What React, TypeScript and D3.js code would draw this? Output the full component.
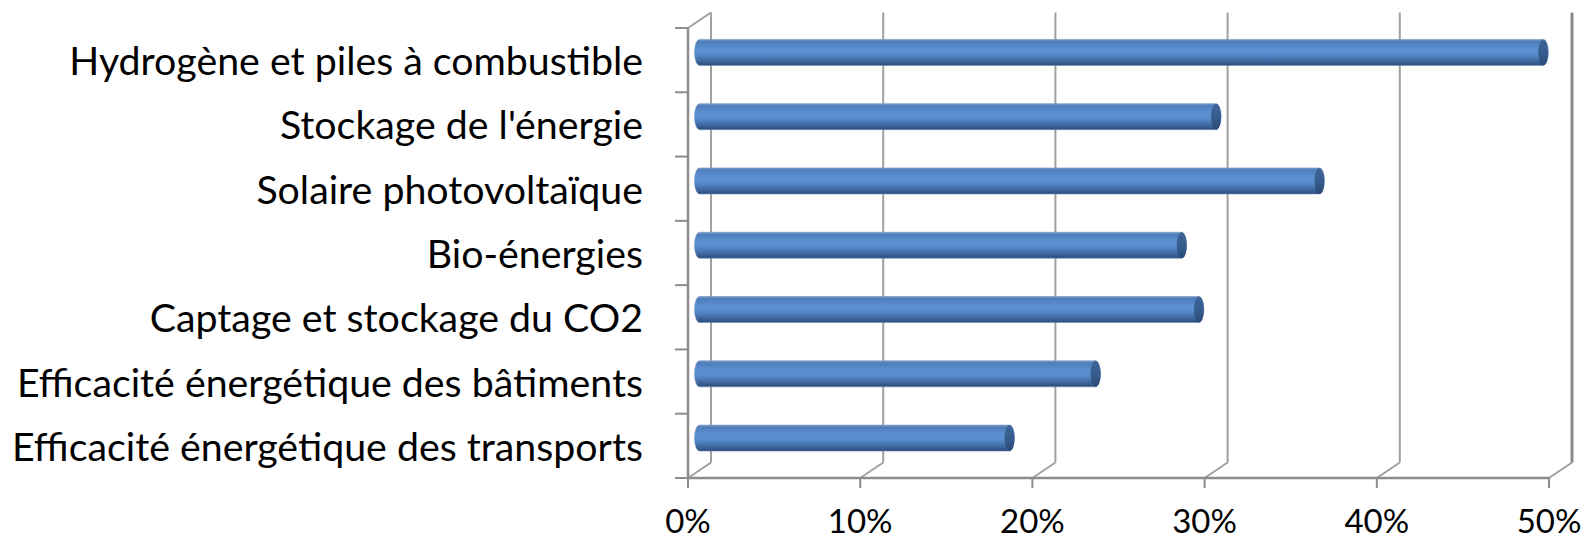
import React from 'react';
import * as d3 from 'd3';

const categories = [
  'Hydrogène et piles à combustible',
  "Stockage de l'énergie",
  'Solaire photovoltaïque',
  'Bio-énergies',
  'Captage et stockage du CO2',
  'Efficacité énergétique des bâtiments',
  'Efficacité énergétique des transports',
];
const values = [49, 30, 36, 28, 29, 23, 18];
const tickValues = [0, 10, 20, 30, 40, 50];

export default function App() {
  const W = 1585;
  const H = 540;
  const x = d3.scaleLinear().domain([0, 50]).range([688, 1549]);
  const y = d3.scaleBand<string>().domain(categories).range([28, 478]);
  const dx = 23;
  const dy = -15.5;
  const top = 28;
  const bottom = 478;
  const barR = 13;
  const capRx = 5;
  const grid = '#A0A0A0';
  const axis = '#8C8C8C';
  const font = 'Lato, "Open Sans", sans-serif';

  const bands = d3.range(categories.length + 1).map((i) => top + i * y.step());

  return (
    <svg width={W} height={H} style={{ position: 'absolute', left: 0, top: 0, background: '#fff' }}>
      <defs>
        <linearGradient id="body" x1="0" y1="0" x2="0" y2="1">
          <stop offset="0" stopColor="#7C9FCB" />
          <stop offset="0.08" stopColor="#4E7DBA" />
          <stop offset="0.35" stopColor="#5C90D2" />
          <stop offset="0.55" stopColor="#5A8DCE" />
          <stop offset="0.8" stopColor="#416DA6" />
          <stop offset="1" stopColor="#2B4C7A" />
        </linearGradient>
        <linearGradient id="cap" x1="0" y1="0" x2="0" y2="1">
          <stop offset="0" stopColor="#3F6699" />
          <stop offset="0.5" stopColor="#375D8F" />
          <stop offset="1" stopColor="#294A76" />
        </linearGradient>
      </defs>

      {/* back wall gridlines and floor lines */}
      {tickValues.map((t, i) => (
        <g key={`g${t}`}>
          <line
            x1={x(t) + dx}
            x2={x(t) + dx}
            y1={top + dy}
            y2={bottom + dy}
            stroke={i === tickValues.length - 1 ? '#8A8A8A' : grid}
            strokeWidth={i === tickValues.length - 1 ? 3 : 2}
          />
          <line x1={x(t)} y1={bottom} x2={x(t) + dx} y2={bottom + dy} stroke={grid} strokeWidth={2} />
          <line x1={x(t)} x2={x(t)} y1={bottom} y2={bottom + 10} stroke={axis} strokeWidth={2} />
        </g>
      ))}

      {/* left wall */}
      <line x1={x(0)} x2={x(0)} y1={top} y2={bottom} stroke={axis} strokeWidth={2.5} />
      <line x1={x(0)} y1={top} x2={x(0) + dx} y2={top + dy} stroke={grid} strokeWidth={2} />
      {bands.map((b, i) => (
        <line key={`t${i}`} x1={x(0) - 13} x2={x(0)} y1={b} y2={b} stroke={axis} strokeWidth={2} />
      ))}
      {/* front axis */}
      <line x1={x(0)} x2={x(50)} y1={bottom} y2={bottom} stroke={axis} strokeWidth={2.5} />

      {/* bars */}
      {categories.map((c, i) => {
        const yc = (y(c) as number) + y.bandwidth() / 2 + dy / 2;
        const x0 = x(0) + dx / 2;
        const x1 = x(values[i]) + dx / 2;
        const d = `M${x0},${yc - barR} L${x1},${yc - barR} A${capRx},${barR} 0 0 1 ${x1},${yc + barR} L${x0},${yc + barR} A${capRx},${barR} 0 0 1 ${x0},${yc - barR} Z`;
        return (
          <g key={c}>
            <path d={d} fill="url(#body)" stroke="#6E8FBC" strokeWidth={0.6} />
            <ellipse cx={x1} cy={yc} rx={capRx} ry={barR} fill="url(#cap)" />
          </g>
        );
      })}

      {/* category labels */}
      {categories.map((c) => (
        <text
          key={`l${c}`}
          x={643}
          y={(y(c) as number) + y.bandwidth() / 2 + 15}
          textAnchor="end"
          fontFamily={font}
          fontSize={39.3}
          fill="#000"
        >
          {c}
        </text>
      ))}

      {/* tick labels */}
      {tickValues.map((t) => (
        <text key={`x${t}`} x={x(t)} y={533} textAnchor="middle" fontFamily={font} fontSize={33} fill="#000">
          {`${t}%`}
        </text>
      ))}
    </svg>
  );
}
